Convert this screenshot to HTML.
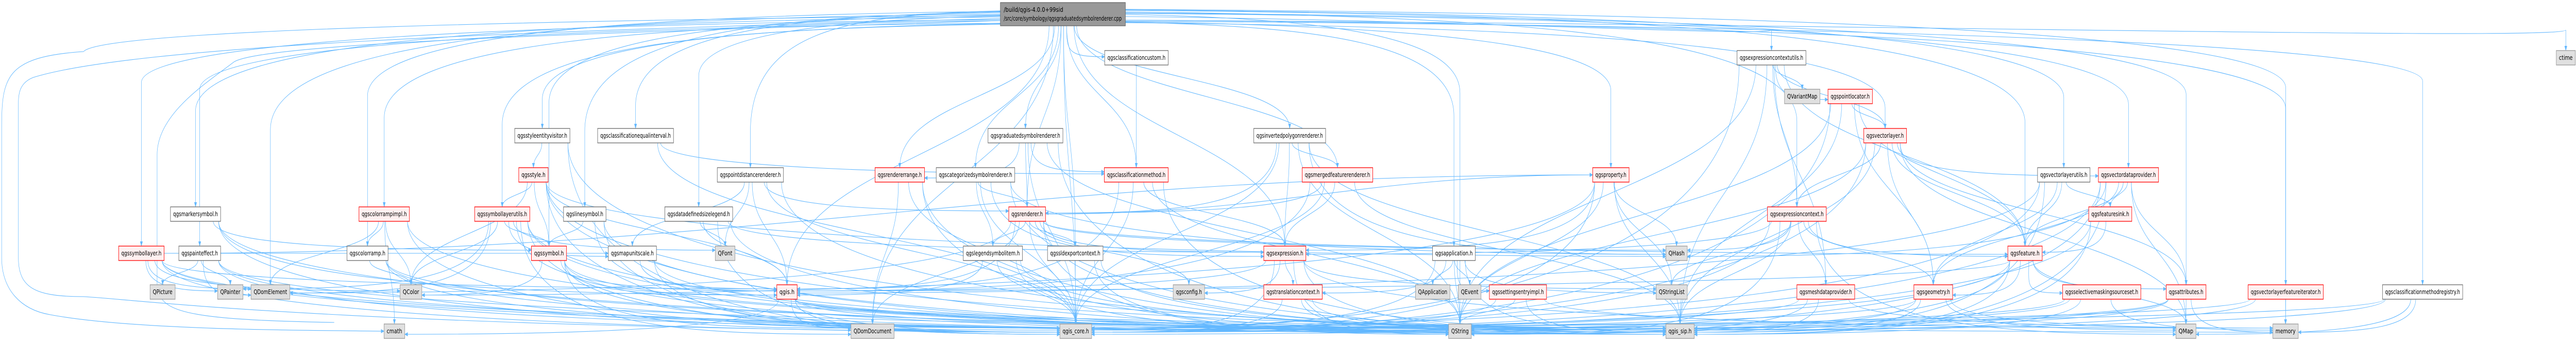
<!DOCTYPE html>
<html><head><meta charset="utf-8"><meta name="viewport" content="width=device-width, initial-scale=1">
<style>
html,body{margin:0;padding:0;background:#fff;width:100%;height:100%;overflow:hidden;}
svg#s{display:block;width:100vw;height:100vh;overflow:hidden;}
text{font-family:"DejaVu Sans","Liberation Sans",sans-serif;font-size:12px;fill:#000;}
.w{fill:#fff;stroke:#666;stroke-width:1.3}
.r{fill:#fff0f0;stroke:#f00;stroke-width:1.3}
.g{fill:#e0e0e0;stroke:#999;stroke-width:1.3}
.k{fill:#999;stroke:#666;stroke-width:1.3}
#edges path{fill:none;stroke:#63b8ff;stroke-width:1.1}
</style></head><body>
<svg id="s" viewBox="0 0 7707 661" preserveAspectRatio="none" xmlns="http://www.w3.org/2000/svg">
<defs><marker id="a" markerWidth="10" markerHeight="8" refX="9" refY="4" orient="auto" markerUnits="userSpaceOnUse"><path d="M0,0 L10,4 L0,8 z" fill="#63b8ff"/></marker></defs>
<g id="edges">
<path d="M2993,30 C1500,40 300,60 250,100 C15,110 5,150 5,250 L5,500 C5,560 60,600 150,610 C400,640 900,640 1149,642" marker-end="url(#a)"/>
<path d="M2993,36 C1500,60 400,90 100,150 C60,160 55,180 55,200 L55,500 C55,560 110,575 250,575 C400,580 900,625 2546,640" marker-end="url(#a)"/>
<path d="M2993,40 C2000,60 800,80 700,120 C620,160 470,220 470,300 L470,560 C490,600 520,620 1000,625"/>
</g>
<g id="nodes">
<g id="root"><rect class="k" x="2993" y="5" width="374" height="45"/><text x="3003" y="23" textLength="178" lengthAdjust="spacingAndGlyphs">/build/qgis-4.0.0+99sid</text><text x="3003" y="40" textLength="353" lengthAdjust="spacingAndGlyphs">/src/core/symbology/qgsgraduatedsymbolrenderer.cpp</text></g>
</g>
</svg>
<script>
var N=[
["ccustom","qgsclassificationcustom.h",3305,3495,98,"w"],
["ecutils","qgsexpressioncontextutils.h",5197,5403,98,"w"],
["ctime","ctime",7648,7705,98,"g"],
["qvmap","QVariantMap",5339,5445,173,"g"],
["ploc","qgspointlocator.h",5469,5602,173,"r"],
["sev","qgsstyleentityvisitor.h",1540,1705,249,"w"],
["ceqi","qgsclassificationequalinterval.h",1788,2015,249,"w"],
["gsr","qgsgraduatedsymbolrenderer.h",2956,3180,249,"w"],
["ipr","qgsinvertedpolygonrenderer.h",3751,3966,249,"w"],
["vl","qgsvectorlayer.h",5576,5704,249,"r"],
["style","qgsstyle.h",1552,1640,325,"r"],
["pdr","qgspointdistancerenderer.h",2146,2344,325,"w"],
["rrange","qgsrendererrange.h",2618,2766,325,"r"],
["csr","qgscategorizedsymbolrenderer.h",2801,3036,325,"w"],
["cmethod","qgsclassificationmethod.h",3304,3495,325,"r"],
["mfr","qgsmergedfeaturerenderer.h",3896,4107,325,"r"],
["prop","qgsproperty.h",4765,4874,325,"r"],
["vlu","qgsvectorlayerutils.h",6096,6253,325,"w"],
["vdp","qgsvectordataprovider.h",6278,6458,325,"r"],
["msym","qgsmarkersymbol.h",510,660,401,"w"],
["crimpl","qgscolorrampimpl.h",1074,1225,401,"r"],
["slu","qgssymbollayerutils.h",1420,1585,401,"r"],
["lsym","qgslinesymbol.h",1686,1813,401,"w"],
["ddsl","qgsdatadefinedsizelegend.h",1989,2192,401,"w"],
["rend","qgsrenderer.h",3018,3128,401,"r"],
["ectx","qgsexpressioncontext.h",5288,5464,401,"r"],
["fsink","qgsfeaturesink.h",6249,6378,401,"r"],
["sl","qgssymbollayer.h",355,491,477,"r"],
["peff","qgspainteffect.h",535,660,477,"w"],
["cramp","qgscolorramp.h",1038,1161,477,"w"],
["sym","qgssymbol.h",1590,1695,477,"r"],
["mus","qgsmapunitscale.h",1820,1964,477,"w"],
["qfont","QFont",2140,2199,477,"g"],
["lsi","qgslegendsymbolitem.h",2882,3059,477,"w"],
["sldx","qgssldexportcontext.h",3134,3300,477,"w"],
["expr","qgsexpression.h",3781,3907,477,"r"],
["app","qgsapplication.h",4286,4414,477,"w"],
["qhash","QHash",4984,5048,477,"g"],
["feat","qgsfeature.h",6007,6110,477,"r"],
["qpic","QPicture",449,524,552,"g"],
["qpaint","QPainter",651,727,552,"g"],
["qdome","QDomElement",751,867,552,"g"],
["qcolor","QColor",1197,1262,552,"g"],
["qgis","qgis.h",2324,2385,552,"r"],
["qcfg","qgsconfig.h",3510,3604,552,"g"],
["trctx","qgstranslationcontext.h",3781,3956,552,"r"],
["qapp","QApplication",4235,4338,552,"g"],
["qevent","QEvent",4363,4431,552,"g"],
["setimpl","qgssettingsentryimpl.h",4456,4627,552,"r"],
["qsl","QStringList",4955,5048,552,"g"],
["meshdp","qgsmeshdataprovider.h",5376,5549,552,"r"],
["geom","qgsgeometry.h",5726,5842,552,"r"],
["sms","qgsselectivemaskingsourceset.h",6171,6405,552,"r"],
["attrs","qgsattributes.h",6481,6600,552,"r"],
["vlfi","qgsvectorlayerfeatureiterator.h",6726,6951,552,"r"],
["cmreg","qgsclassificationmethodregistry.h",7128,7368,552,"w"],
["cmath","cmath",1149,1211,628,"g"],
["qdomd","QDomDocument",2546,2675,628,"g"],
["core","qgis_core.h",3171,3266,628,"g"],
["qstr","QString",4334,4402,628,"g"],
["sip","qgis_sip.h",4984,5069,628,"g"],
["qmap","QMap",6510,6570,628,"g"],
["mem","memory",6800,6876,628,"g"]
];
var P={root:{x1:2993,x2:3367,y1:5,y2:50}};
var NS="http://www.w3.org/2000/svg";
var ng=document.getElementById("nodes");
N.forEach(function(n){
 var g=document.createElementNS(NS,"g");
 var r=document.createElementNS(NS,"rect");
 r.setAttribute("class",n[5]);r.setAttribute("x",n[2]);r.setAttribute("y",n[4]);
 r.setAttribute("width",n[3]-n[2]);r.setAttribute("height",28);
 var t=document.createElementNS(NS,"text");
 t.setAttribute("x",(n[2]+n[3])/2);t.setAttribute("y",n[4]+18);t.setAttribute("text-anchor","middle");
 t.setAttribute("textLength",Math.max(10,n[3]-n[2]-16));t.setAttribute("lengthAdjust","spacingAndGlyphs");
 t.textContent=n[1];g.appendChild(r);g.appendChild(t);ng.appendChild(g);
 P[n[0]]={x1:n[2],x2:n[3],y1:n[4],y2:n[4]+28};
});
var E={
root:"ccustom ecutils ctime sev ceqi gsr ipr vl pdr csr cmethod prop vlu vdp msym crimpl slu lsym ddsl sl peff cramp sym expr app feat qdome sldx cmreg vlfi attrs qdomd mem mfr ectx core rend rrange qgis qstr",
ccustom:"cmethod",
ecutils:"qvmap ploc ectx vl feat meshdp core sip qstr",
ploc:"vl geom feat core sip qstr",
vl:"ectx vdp feat geom core sip qstr qmap attrs",
sev:"style core sip",
ceqi:"cmethod core",
gsr:"rrange cmethod rend core sip qstr",
ipr:"rend expr mfr core sip qhash qstr",
style:"slu sym qgis core sip qstr qcolor qhash",
pdr:"rend qfont mus qgis core sip",
rrange:"core sip qstr qdomd",
csr:"rend expr core sip qhash lsi",
cmethod:"core sip expr qstr qgis",
mfr:"rend core sip expr qgis",
prop:"qhash qsl qstr sip core qcolor expr",
vlu:"feat geom fsink core sip qgis",
vdp:"fsink feat geom core sip qstr attrs qmap qhash",
msym:"sym core sip qgis",
crimpl:"cramp qcolor core sip qdome cmath",
slu:"sym mus qfont qgis core sip qcolor qstr qdome qdomd qpaint",
lsym:"sym core sip qgis",
ddsl:"qfont core sip qgis expr",
rend:"lsi qcfg qgis core sip qstr qhash expr feat prop qdomd sldx qdome",
ectx:"feat geom core sip qstr qhash qsl expr qmap meshdp",
fsink:"feat core sip",
sl:"qdome qcolor core sip qgis qpaint qstr prop mus",
peff:"qpic qpaint qdome core sip qstr",
cramp:"qcolor core sip qstr",
sym:"qgis core sip qstr qcolor qdomd",
mus:"qgis core sip",
lsi:"core sip qstr qgis",
sldx:"core sip qstr",
expr:"qstr qsl core sip trctx qmap qgis qcfg",
app:"qapp qevent setimpl qsl qstr core sip trctx",
feat:"geom attrs core sip qstr qmap qgis sms",
qgis:"core sip qstr mem cmath qdomd",
meshdp:"core sip qstr mem",geom:"core sip qstr mem qmap",sms:"core sip qstr mem",
attrs:"qmap core sip qstr mem",vlfi:"mem core sip",cmreg:"mem qmap core sip",
trctx:"core sip qstr",setimpl:"core sip qstr qmap"
};
var eg=document.getElementById("edges");var k=0;
function cl(v){return Math.max(2,Math.min(7704,v));}
function add(d){var p=document.createElementNS(NS,"path");p.setAttribute("d",d);p.setAttribute("marker-end","url(#a)");eg.appendChild(p);}
for(var s in E){E[s].split(" ").forEach(function(tn){
 var a=P[s],b=P[tn];if(!a||!b)return;k++;
 var acx=(a.x1+a.x2)/2,bcx=(b.x1+b.x2)/2,dx=bcx-acx,sg=dx>0?1:-1;
 var hw=(a.x2-a.x1)/2-6;var off=Math.max(-hw,Math.min(hw,dx*0.05));
 if(s==="root"&&Math.abs(dx)>900){
  var sx=dx>0?a.x2:a.x1,yA=18+(k*7)%30;
  var yB=Math.min(b.y1-40,140+(k*13)%120);
  add("M"+sx+","+yA+" C"+(sx+dx*0.5)+","+(yA+8)+" "+bcx+","+(yA+40)+" "+bcx+","+yB+" L"+bcx+","+b.y1);
  return;}
 var sx2=acx+off,sy=a.y2;
 if(b.y1>a.y2+5){
  var dy=b.y1-a.y2;
  if(Math.abs(dx)>4*dy){
   var ex=dx>0?b.x1:b.x2,ey=b.y1+8+(k%4)*4;
   add("M"+sx2+","+sy+" C"+sx2+","+(ey-10)+" "+cl(ex-sg*Math.min(Math.abs(dx)*0.5,500))+","+ey+" "+ex+","+ey);
  }else{
   add("M"+sx2+","+sy+" C"+sx2+","+(sy+dy/2)+" "+bcx+","+(b.y1-dy/2)+" "+bcx+","+b.y1);
  }
 }else{
  var x0=dx>0?a.x2:a.x1,x1=dx>0?b.x1:b.x2;
  add("M"+x0+","+(a.y1+14)+" C"+(x0+dx*0.4)+","+(a.y1+14)+" "+(x1-dx*0.4)+","+(b.y1+14)+" "+x1+","+(b.y1+14));
 }
});}
</script>
</body></html>
